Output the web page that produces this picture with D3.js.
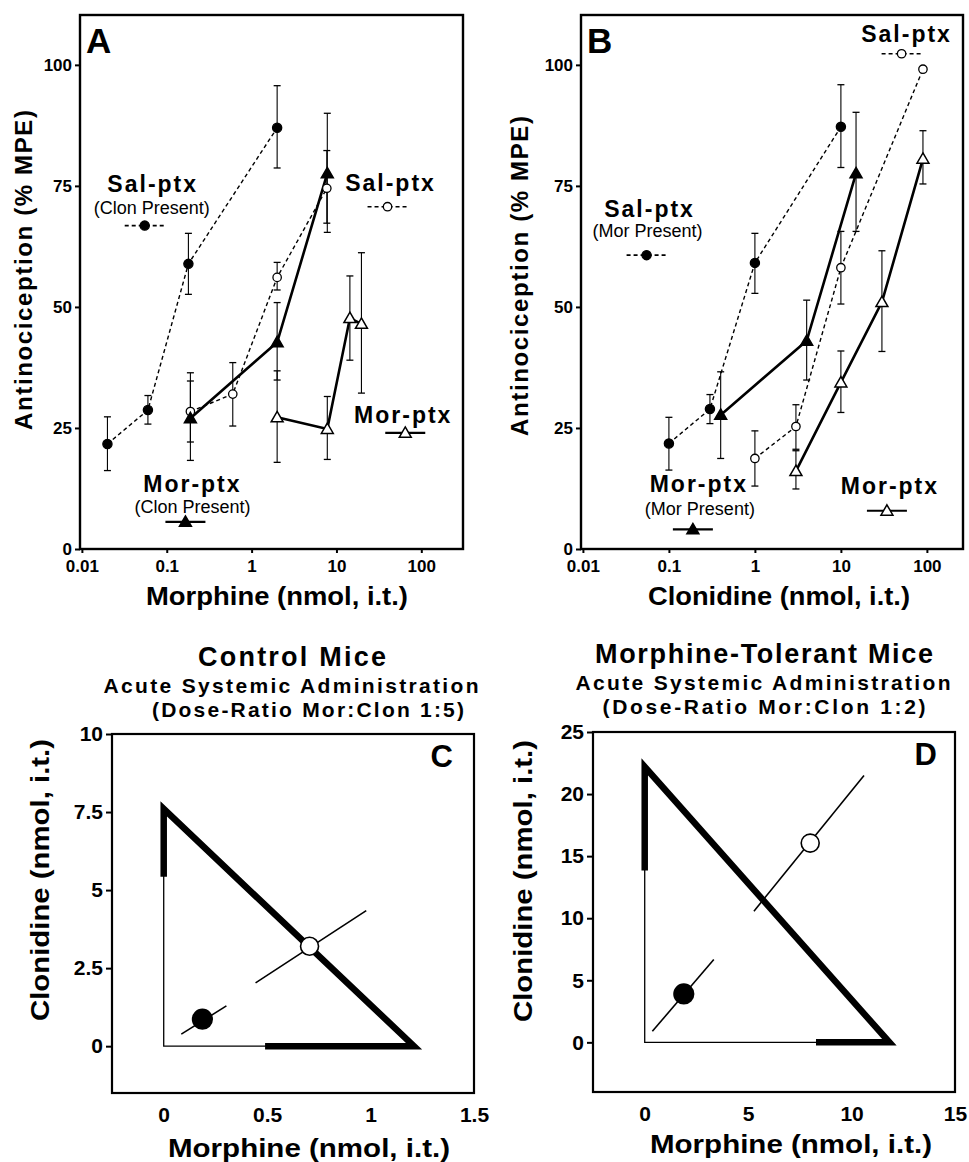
<!DOCTYPE html>
<html>
<head>
<meta charset="utf-8">
<script src="https://cdn.jsdelivr.net/npm/d3@7"></script>
<style>
  body { margin: 0; background: #fff; }
  text { font-family: "Liberation Sans", Arial, Helvetica, sans-serif; fill: #000; }
</style>
</head>
<body>
<svg width="969" height="1162"></svg>
<script>
// ---- panel A: morphine dose (nmol, i.t.) vs % MPE ----
var aSalCoDose = [0.02, 0.06, 0.18, 2],
    aSalCoMean = [21.7, 28.7, 58.9, 87.0],
    aSalCoHi = [27.3, 31.7, 65.2, 95.7],
    aSalCoLo = [16.2, 25.8, 52.6, 78.7];
var aSalDose = [0.19, 0.6, 2, 7.7],
    aSalMean = [28.4, 32.0, 56.1, 74.5],
    aSalHi = [34.7, 38.5, 59.2, 82.3],
    aSalLo = [22.1, 25.4, 53.5, 67.3];
var aMorCoDose = [0.19, 2, 7.8],
    aMorCoMean = [27.0, 42.7, 77.6],
    aMorCoHi = [36.4, 50.9, 90.0],
    aMorCoLo = [18.3, 34.9, 65.4];
var aMorDose = [2, 7.8, 14.4, 19.7],
    aMorMean = [27.2, 24.8, 47.7, 46.5],
    aMorHi = [36.8, 31.5, 56.4, 61.2],
    aMorLo = [17.9, 18.5, 39.0, 32.2];

// ---- panel B: clonidine dose (nmol, i.t.) vs % MPE ----
var bSalCoDose = [0.1, 0.3, 1, 10],
    bSalCoMean = [21.8, 28.9, 59.1, 87.2],
    bSalCoHi = [27.2, 31.9, 65.2, 95.9],
    bSalCoLo = [16.3, 25.9, 52.8, 78.8];
var bSalDose = [1, 3, 10, 90],
    bSalMean = [18.7, 25.3, 58.1, 99.1],
    bSalHi = [24.4, 29.8, 65.6, 99.1],
    bSalLo = [13.0, 20.6, 50.6, 99.1];
var bMorCoDose = [0.4, 4, 15],
    bMorCoMean = [27.7, 43.0, 77.6],
    bMorCoHi = [36.6, 51.4, 90.2],
    bMorCoLo = [18.7, 34.9, 65.6];
var bMorDose = [3, 10, 30, 90],
    bMorMean = [16.1, 34.4, 51.0, 80.6],
    bMorHi = [20.3, 40.9, 61.6, 86.4],
    bMorLo = [12.4, 28.2, 40.8, 75.4];

var drTicksY = [0, 25, 50, 75, 100],
    drTicksX = [0.01, 0.1, 1, 10, 100];

// ---- panel C: isobologram, control mice ----
var cMorED50 = 1.21, cMorLow = 0.49, cClonED50 = 7.6, cClonLow = 5.43;
var cAdd = [0.705, 3.2], cAddLo = [0.444, 2.03], cAddHi = [0.979, 4.34];
var cObs = [0.187, 0.865], cObsLo = [0.085, 0.385], cObsHi = [0.303, 1.29];
var cTicksX = [0, 0.5, 1, 1.5], cTicksY = [0, 2.5, 5, 7.5, 10];

// ---- panel D: isobologram, morphine-tolerant mice ----
var dMorED50 = 11.83, dMorLow = 8.28, dClonED50 = 22.2, dClonLow = 13.85;
var dAdd = [8.0, 16.05], dAddLo = [5.28, 10.56], dAddHi = [10.6, 21.5];
var dObs = [1.89, 3.9], dObsLo = [0.37, 0.89], dObsHi = [3.34, 6.67];
var dTicksX = [0, 5, 10, 15], dTicksY = [0, 5, 10, 15, 20, 25];

var svg = d3.select("svg");

// how each group is drawn
var styles = {
    salCo: { shape: "circle", fill: "#000", dash: "4,3", width: 1.4 },
    sal: { shape: "circle", fill: "#fff", dash: "4,3", width: 1.4 },
    morCo: { shape: "triangle", fill: "#000", dash: null, width: 2.6 },
    mor: { shape: "triangle", fill: "#fff", dash: null, width: 2.6 }
};

function series(kind, dose, mean, hi, lo) {
    return {
        kind: kind,
        pts: dose.map(function (d, i) {
            return { x: d, m: mean[i], hi: hi[i], lo: lo[i] };
        })
    };
}

function marker(g, kind, cx, cy) {
    var st = styles[kind];
    if (st.shape === "circle") {
        g.append("circle")
            .attr("cx", cx).attr("cy", cy)
            .attr("r", st.fill === "#000" ? 4.6 : 4.2)
            .attr("fill", st.fill)
            .attr("stroke", "#000")
            .attr("stroke-width", 1.3);
    } else {
        g.append("path")
            .attr("transform", "translate(" + cx + "," + (cy + 1) + ")")
            .attr("d", d3.symbol().type(d3.symbolTriangle).size(62)())
            .attr("fill", st.fill)
            .attr("stroke", "#000")
            .attr("stroke-width", 1.5);
    }
}

function styleAxis(ax, size) {
    ax.select(".domain").remove();
    ax.selectAll(".tick line").attr("stroke", "#000").attr("stroke-width", 2);
    ax.selectAll(".tick text")
        .attr("fill", "#000")
        .attr("font-size", size)
        .attr("font-weight", "bold")
        .attr("font-family", "Liberation Sans, Arial, sans-serif");
}

function doseResponse(p) {
    var top = 15, bottom = 549;
    var x = d3.scaleLog().domain(p.xDomain).range([p.left, p.right]);
    var y = d3.scaleLinear().domain([0, 110.3]).range([bottom, top]);
    var g = svg.append("g");

    g.append("rect")
        .attr("x", p.left).attr("y", top)
        .attr("width", p.right - p.left).attr("height", bottom - top)
        .attr("fill", "none").attr("stroke", "#000").attr("stroke-width", 2.4);

    var ay = g.append("g")
        .attr("transform", "translate(" + p.left + ",0)")
        .call(d3.axisLeft(y).tickValues(drTicksY).tickSize(5).tickPadding(3));
    styleAxis(ay, 17);

    var ax = g.append("g")
        .attr("transform", "translate(0," + bottom + ")")
        .call(d3.axisBottom(x).tickValues(drTicksX).tickSize(4).tickPadding(7)
            .tickFormat(function (d) { return String(d); }));
    styleAxis(ax, 17);

    var line = d3.line()
        .x(function (d) { return x(d.x); })
        .y(function (d) { return y(d.m); });

    p.series.forEach(function (s) {
        var st = styles[s.kind];
        g.append("path")
            .datum(s.pts)
            .attr("fill", "none")
            .attr("stroke", "#000")
            .attr("stroke-width", st.width)
            .attr("stroke-dasharray", st.dash)
            .attr("d", line);
    });

    // error bars
    p.series.forEach(function (s) {
        s.pts.filter(function (d) { return d.hi > d.lo; }).forEach(function (d) {
            var cx = x(d.x);
            g.append("line").attr("x1", cx).attr("x2", cx)
                .attr("y1", y(d.hi)).attr("y2", y(d.lo))
                .attr("stroke", "#000").attr("stroke-width", 1.1);
            [d.hi, d.lo].forEach(function (v) {
                g.append("line").attr("x1", cx - 3.5).attr("x2", cx + 3.5)
                    .attr("y1", y(v)).attr("y2", y(v))
                    .attr("stroke", "#000").attr("stroke-width", 1.3);
            });
        });
    });

    p.series.forEach(function (s) {
        s.pts.forEach(function (d) { marker(g, s.kind, x(d.x), y(d.m)); });
    });

    // group labels with their key
    p.legend.forEach(function (l) {
        var st = styles[l.kind];
        var mx = x(l.at[0]), my = y(l.at[1]);
        g.append("line")
            .attr("x1", mx - 20).attr("x2", mx + 20)
            .attr("y1", my).attr("y2", my)
            .attr("stroke", "#000")
            .attr("stroke-width", st.dash ? 1.6 : 2.2)
            .attr("stroke-dasharray", st.dash);
        marker(g, l.kind, mx, my);
        g.append("text")
            .attr("x", mx + l.t[0]).attr("y", my + l.t[1])
            .attr("text-anchor", "middle")
            .attr("font-size", 23).attr("font-weight", "bold")
            .attr("letter-spacing", 2)
            .text(l.name);
        if (l.sub) {
            g.append("text")
                .attr("x", mx + l.s[0]).attr("y", my + l.s[1])
                .attr("text-anchor", "middle")
                .attr("font-size", 18)
                .text(l.sub);
        }
    });

    g.append("text")
        .attr("x", p.left + 6).attr("y", 53)
        .attr("font-size", 35).attr("font-weight", "bold")
        .text(p.letter);

    g.append("text")
        .attr("x", p.xTitleX).attr("y", 605)
        .attr("text-anchor", "middle")
        .attr("font-size", 25).attr("font-weight", "bold")
        .attr("textLength", 262).attr("lengthAdjust", "spacingAndGlyphs")
        .text(p.xTitle);

    g.append("text")
        .attr("transform", "translate(" + p.yTitleX + "," + p.yTitleY + ") rotate(-90)")
        .attr("text-anchor", "middle")
        .attr("dy", "0.35em")
        .attr("font-size", 24).attr("font-weight", "bold")
        .attr("textLength", 320).attr("lengthAdjust", "spacing")
        .text("Antinociception (% MPE)");
}

function isobologram(p) {
    var x = d3.scaleLinear().domain(p.xDomain).range([p.left, p.right]);
    var y = d3.scaleLinear().domain(p.yDomain).range([p.bottom, p.top]);
    var g = svg.append("g");

    g.append("rect")
        .attr("x", p.left).attr("y", p.top)
        .attr("width", p.right - p.left).attr("height", p.bottom - p.top)
        .attr("fill", "none").attr("stroke", "#000").attr("stroke-width", 2.2);

    var ay = g.append("g")
        .attr("transform", "translate(" + p.left + ",0)")
        .call(d3.axisLeft(y).tickValues(p.yTicks).tickSize(6).tickPadding(3)
            .tickFormat(function (d) { return String(d); }));
    styleAxis(ay, 21);

    var ax = g.append("g")
        .attr("transform", "translate(0," + p.bottom + ")")
        .call(d3.axisBottom(x).tickValues(p.xTicks).tickSize(0).tickPadding(14)
            .tickFormat(function (d) { return String(d); }));
    styleAxis(ax, 21);

    // thin axes of the isobologram
    g.append("path")
        .attr("d", d3.line()([[x(0), y(p.clonED50)], [x(0), y(0)], [x(p.morED50), y(0)]]))
        .attr("fill", "none").attr("stroke", "#000").attr("stroke-width", 1.3);

    // additive line with ED50 confidence bars
    g.append("path")
        .attr("d", d3.line()([[x(0), y(p.clonLow)], [x(0), y(p.clonED50)],
            [x(p.morED50), y(0)], [x(p.morLow), y(0)]]))
        .attr("fill", "none").attr("stroke", "#000")
        .attr("stroke-width", 6.5).attr("stroke-linejoin", "miter");

    [[p.add, p.addLo, p.addHi, "#fff", 9], [p.obs, p.obsLo, p.obsHi, "#000", 9.8]].forEach(function (c) {
        g.append("line")
            .attr("x1", x(c[1][0])).attr("y1", y(c[1][1]))
            .attr("x2", x(c[2][0])).attr("y2", y(c[2][1]))
            .attr("stroke", "#000").attr("stroke-width", 1.6);
        g.append("circle")
            .attr("cx", x(c[0][0])).attr("cy", y(c[0][1])).attr("r", c[4])
            .attr("fill", c[3]).attr("stroke", "#000").attr("stroke-width", 1.6);
    });

    g.append("text")
        .attr("x", p.letterX).attr("y", p.top + 33)
        .attr("text-anchor", "end")
        .attr("font-size", 31).attr("font-weight", "bold")
        .text(p.letter);

    p.titles.forEach(function (t) {
        g.append("text")
            .attr("x", t.x).attr("y", t.y)
            .attr("text-anchor", "middle")
            .attr("font-size", t.size).attr("font-weight", "bold")
            .attr("textLength", t.len).attr("lengthAdjust", "spacing")
            .text(t.text);
    });

    g.append("text")
        .attr("x", p.xTitleX).attr("y", p.xTitleY)
        .attr("text-anchor", "middle")
        .attr("font-size", 26).attr("font-weight", "bold")
        .attr("textLength", 282).attr("lengthAdjust", "spacingAndGlyphs")
        .text("Morphine (nmol, i.t.)");

    g.append("text")
        .attr("transform", "translate(" + p.yTitleX + "," + p.yTitleY + ") rotate(-90)")
        .attr("text-anchor", "middle")
        .attr("dy", "0.35em")
        .attr("font-size", 26).attr("font-weight", "bold")
        .attr("textLength", 282).attr("lengthAdjust", "spacingAndGlyphs")
        .text("Clonidine (nmol, i.t.)");
}

doseResponse({
    letter: "A", left: 80, right: 463, xDomain: [0.0095, 310],
    xTitle: "Morphine (nmol, i.t.)", xTitleX: 277, yTitleX: 24, yTitleY: 270,
    series: [
        series("salCo", aSalCoDose, aSalCoMean, aSalCoHi, aSalCoLo),
        series("sal", aSalDose, aSalMean, aSalHi, aSalLo),
        series("morCo", aMorCoDose, aMorCoMean, aMorCoHi, aMorCoLo),
        series("mor", aMorDose, aMorMean, aMorHi, aMorLo)
    ],
    legend: [
        { kind: "salCo", name: "Sal-ptx", sub: "(Clon Present)", at: [0.055, 66.8], t: [8, -34], s: [7, -12] },
        { kind: "sal", name: "Sal-ptx", at: [40, 70.7], t: [3, -16] },
        { kind: "morCo", name: "Mor-ptx", sub: "(Clon Present)", at: [0.166, 5.6], t: [7, -30], s: [7, -9] },
        { kind: "mor", name: "Mor-ptx", at: [64.7, 24.0], t: [-2, -10] }
    ]
});

doseResponse({
    letter: "B", left: 581, right: 963, xDomain: [0.0095, 263],
    xTitle: "Clonidine (nmol, i.t.)", xTitleX: 779, yTitleX: 520, yTitleY: 276,
    series: [
        series("salCo", bSalCoDose, bSalCoMean, bSalCoHi, bSalCoLo),
        series("sal", bSalDose, bSalMean, bSalHi, bSalLo),
        series("morCo", bMorCoDose, bMorCoMean, bMorCoHi, bMorCoLo),
        series("mor", bMorDose, bMorMean, bMorHi, bMorLo)
    ],
    legend: [
        { kind: "salCo", name: "Sal-ptx", sub: "(Mor Present)", at: [0.055, 60.7], t: [3, -38], s: [1, -18] },
        { kind: "morCo", name: "Mor-ptx", sub: "(Mor Present)", at: [0.19, 4.07], t: [6, -37], s: [7, -14] },
        { kind: "mor", name: "Mor-ptx", at: [34.3, 7.9], t: [3, -17] },
        { kind: "sal", name: "Sal-ptx", at: [50.8, 102.3], t: [5, -12] }
    ]
});

isobologram({
    letter: "C", letterX: 453,
    left: 112, right: 474, top: 734, bottom: 1093,
    xDomain: [-0.25, 1.5], yDomain: [-1.5, 10],
    xTicks: cTicksX, yTicks: cTicksY,
    morED50: cMorED50, morLow: cMorLow, clonED50: cClonED50, clonLow: cClonLow,
    add: cAdd, addLo: cAddLo, addHi: cAddHi,
    obs: cObs, obsLo: cObsLo, obsHi: cObsHi,
    xTitleX: 309, xTitleY: 1157, yTitleX: 40, yTitleY: 880,
    titles: [
        { text: "Control Mice", x: 292, y: 666, size: 27, len: 188 },
        { text: "Acute Systemic Administration", x: 291, y: 693, size: 21, len: 375 },
        { text: "(Dose-Ratio Mor:Clon 1:5)", x: 308, y: 717, size: 21, len: 312 }
    ]
});

isobologram({
    letter: "D", letterX: 937,
    left: 593, right: 955, top: 732, bottom: 1092,
    xDomain: [-2.5, 15], yDomain: [-4, 25],
    xTicks: dTicksX, yTicks: dTicksY,
    morED50: dMorED50, morLow: dMorLow, clonED50: dClonED50, clonLow: dClonLow,
    add: dAdd, addLo: dAddLo, addHi: dAddHi,
    obs: dObs, obsLo: dObsLo, obsHi: dObsHi,
    xTitleX: 791, xTitleY: 1153, yTitleX: 523, yTitleY: 881,
    titles: [
        { text: "Morphine-Tolerant Mice", x: 764, y: 663, size: 27, len: 338 },
        { text: "Acute Systemic Administration", x: 763, y: 690, size: 21, len: 375 },
        { text: "(Dose-Ratio Mor:Clon 1:2)", x: 764, y: 714, size: 21, len: 323 }
    ]
});
</script>
</body>
</html>
